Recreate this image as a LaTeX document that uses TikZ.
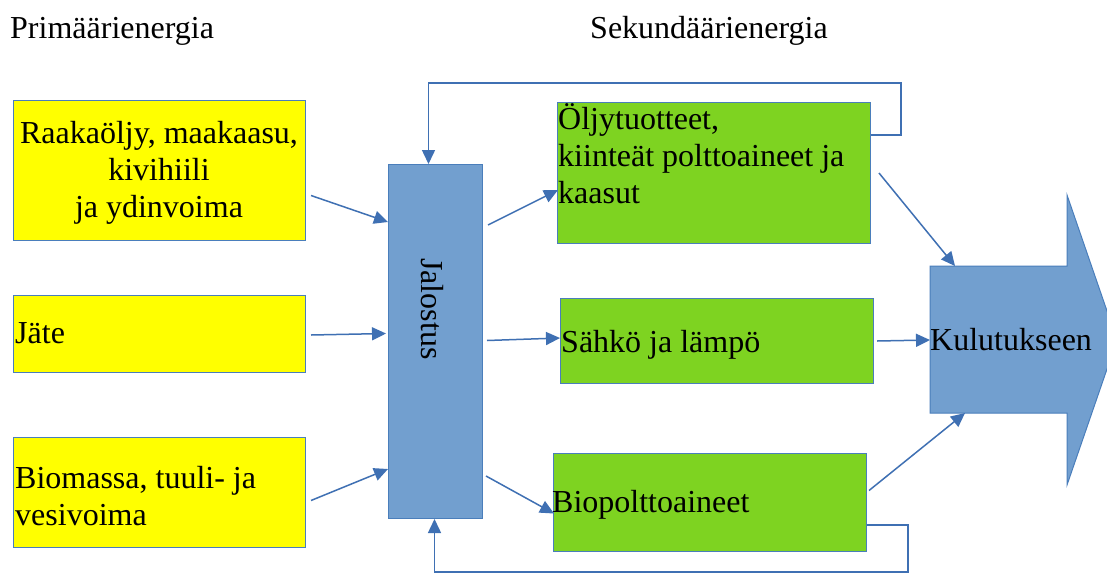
\documentclass[tikz,border=0pt]{standalone}
\usepackage{fontspec}
\setmainfont{Liberation Serif}
\usetikzlibrary{arrows.meta,calc}
\definecolor{yel}{HTML}{FFFF00}
\definecolor{grn}{HTML}{7ED321}
\definecolor{bfill}{HTML}{729FCF}
\definecolor{bline}{HTML}{4A7EBB}
\definecolor{aline}{HTML}{3F70B3}
\begin{document}
\begin{tikzpicture}[x=1pt,y=-1pt,
  box/.style={draw=bline, line width=1pt, inner sep=0pt, anchor=north west},
  ybox/.style={box, fill=yel},
  gbox/.style={box, fill=grn},
  bbox/.style={box, fill=bfill},
  conn/.style={draw=aline, line width=1.5pt, -{Triangle[length=14pt,width=13pt]}},
  txt/.style={inner sep=0pt, text=black, font=\fontsize{32}{37}\selectfont}]
\useasboundingbox (0,0) rectangle (1107,576);
\fill[white] (0,0) rectangle (1107,576);
\clip (0,0) rectangle (1107,576);

% headers
\node[txt, anchor=base west] (hp) at (10,38) {Primäärienergia};
\node[txt, anchor=base west] (hs) at (590,38) {Sekundäärienergia};

% boxes
\node[ybox, minimum width=292pt, minimum height=140pt] (y1) at (13,100) {};
\node[ybox, minimum width=292pt, minimum height=77pt] (y2) at (13,295) {};
\node[ybox, minimum width=292pt, minimum height=110pt] (y3) at (13,437) {};
\node[bbox, minimum width=94pt, minimum height=354pt] (jal) at (388,164) {};
\node[gbox, minimum width=313pt, minimum height=141pt] (g1) at (557,102) {};
\node[gbox, minimum width=313pt, minimum height=85pt] (g2) at (560,298) {};
\node[gbox, minimum width=313pt, minimum height=98pt] (g3) at (553,453) {};

% big arrow
\draw[draw=bline, line width=1pt, fill=bfill]
  (930,266) -- (1067,266) -- (1067,195) -- (1117,340) -- (1067,485) -- (1067,413) -- (930,413) -- cycle;
\coordinate (k1) at (955,266);
\coordinate (k2) at (930,340);
\coordinate (k3) at (965,413);

% texts
\node[txt, align=center, anchor=center] (y1t) at (159,173) {Raakaöljy, maakaasu,\\kivihiili\\ja ydinvoima};
\node[txt, anchor=base west] (y2t) at (15,343) {Jäte};
\node[txt, align=left, anchor=north west] (y3t) at (15,466) {Biomassa, tuuli- ja\\vesivoima};
\node[txt, rotate=-90, anchor=center] (jalt) at (432,309) {Jalostus};
\node[txt, align=left, anchor=north west] (g1t) at (558,103) {Öljytuotteet,\\kiinteät polttoaineet ja\\kaasut};
\node[txt, anchor=base west] (g2t) at (561,352) {Sähkö ja lämpö};
\node[txt, anchor=base west] (g3t) at (552,512) {Biopolttoaineet};
\node[txt, anchor=base west] (kult) at (930,350) {Kulutukseen};

% connectors
\draw[conn] ($(y1.east)+(5,25)$) -- ($(jal.north west)+(0,58)$);
\draw[conn] ($(y2.east)+(5,1)$) -- ($(jal.west)+(-2,-8)$);
\draw[conn] ($(y3.east)+(5,8)$) -- ($(jal.south west)+(0,-50)$);
\draw[conn] ($(jal.north east)+(5,61)$) -- ($(g1.north west)+(1,88)$);
\draw[conn] ($(jal.east)+(4,-1)$) -- ($(g2.west)+(0,-3)$);
\draw[conn] ($(jal.south east)+(3,-43)$) -- ($(g3.west)+(1,11)$);
\draw[conn] ($(g1.east)+(8,0)$) -- (k1);
\draw[conn] ($(g2.east)+(3,0)$) -- (k2);
\draw[conn] ($(g3.east)+(2,-12)$) -- (k3);
% feedback loops
\draw[conn] ($(g1.north east)+(0,33)$) -| ($(g1.north east)+(30,-19)$) -| ($(jal.north)+(-7,0)$);
\draw[conn] ($(g3.south east)+(0,-27)$) -| ($(g3.south east)+(41,20)$) -| ($(jal.south)+(-1,0)$);
\end{tikzpicture}
\end{document}
